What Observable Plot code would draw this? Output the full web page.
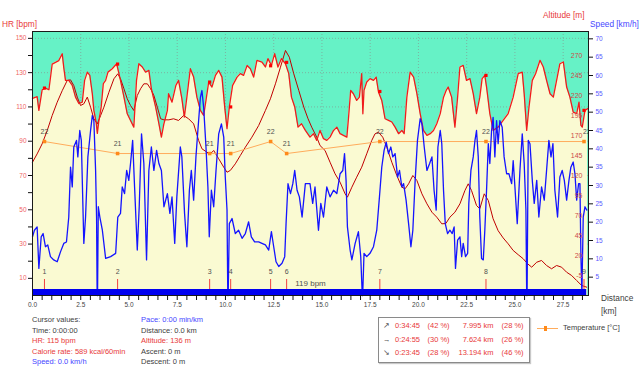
<!DOCTYPE html>
<html><head><meta charset="utf-8">
<script src="https://cdn.jsdelivr.net/npm/d3@7"></script>
<script src="https://cdn.jsdelivr.net/npm/@observablehq/plot@0.6"></script>
<style>
body{margin:0;background:#fff;font-family:"Liberation Sans",Arial,sans-serif;}
#wrap{position:relative;width:640px;height:374px;overflow:hidden;}
.t{position:absolute;white-space:nowrap;font-size:7.5px;line-height:1;color:#404040;}
.big{font-size:8.3px;}
.red{color:#e83a3a;}
.blue{color:#4646ff;}
#box{position:absolute;left:378px;top:317px;width:150px;height:44px;border:1px solid #8a8a8a;background:#fff;box-shadow:1px 1px 1px #c8c8c8;}
</style></head><body><div id="wrap"></div>
<script>
// ---------- data ----------
const totalKm = 28.813;
const hrSeries = [[0,115],[0.24,116],[0.33,108],[0.50,120],[0.67,121],[0.85,120],[0.93,127],[1.02,135],[1.19,136],[1.36,137],[1.54,141],[1.62,133],[1.71,125.5],[1.88,125.5],[2.06,122.6],[2.23,115.7],[2.40,112],[2.58,112.8],[2.70,125.5],[2.84,130.3],[2.97,128.4],[3.10,117.7],[3.18,108],[3.30,101],[3.36,94.6],[3.44,102],[3.56,110],[3.67,123.6],[3.79,125.5],[3.91,130.3],[4.13,132.3],[4.36,135.2],[4.42,132.3],[4.56,125.5],[4.74,115.7],[4.91,106],[5.08,102.1],[5.25,98.2],[5.39,125.5],[5.51,135.2],[5.69,133.3],[5.86,130.3],[6.03,131.3],[6.16,120.6],[6.38,110],[6.55,100.2],[6.68,92.4],[6.81,100.2],[6.99,108],[7.05,117.7],[7.23,112.8],[7.43,122.6],[7.57,125.5],[7.74,114.8],[7.87,104.1],[8.00,115.7],[8.18,132.3],[8.35,127.4],[8.52,115.7],[8.70,108],[8.87,105.1],[8.99,113.8],[9.13,124.5],[9.30,121.6],[9.48,128.4],[9.65,131.3],[9.82,127.4],[9.96,110],[10.08,97.3],[10.20,110],[10.37,122.6],[10.60,127.4],[10.77,129.4],[10.94,128.4],[11.12,134.2],[11.29,132.3],[11.46,127.4],[11.63,137.2],[11.89,136.2],[12.07,133.3],[12.20,138.2],[12.38,134.2],[12.55,141.1],[12.72,133.3],[12.90,138.2],[13.11,135.2],[13.28,129.4],[13.42,115.7],[13.59,110],[13.76,98.2],[13.94,100.2],[14.14,96.3],[14.38,92.4],[14.56,94.4],[14.73,90.5],[14.90,96.3],[15.08,91.5],[15.25,90.5],[15.42,92.4],[15.60,96.3],[15.77,98.2],[15.94,94.4],[16.11,93.4],[16.29,92.4],[16.38,104.1],[16.49,119.7],[16.63,117.7],[16.80,113.8],[16.94,115.7],[17.06,129.4],[17.12,106],[17.18,119.7],[17.32,124.5],[17.49,126.5],[17.67,125.5],[17.81,127.4],[17.93,118.7],[18.10,113.8],[18.27,103.1],[18.45,102.2],[18.62,101.2],[18.79,98.2],[18.97,94.4],[19.14,96.3],[19.26,94.4],[19.40,115.7],[19.57,130.3],[19.75,127.4],[19.92,117.7],[20.09,106.1],[20.26,96.3],[20.44,93.4],[20.61,94.4],[20.78,96.3],[20.95,100.2],[21.13,106.1],[21.30,115.7],[21.44,119.7],[21.54,121.6],[21.72,115.7],[21.89,98.2],[22.03,115.7],[22.15,133.3],[22.32,134.2],[22.49,125.5],[22.67,126.5],[22.84,117.7],[23.01,106.1],[23.18,115.7],[23.30,126.5],[23.44,128.4],[23.53,121.6],[23.70,106.1],[23.87,96.3],[24.13,98.2],[24.39,102.1],[24.65,106.1],[24.91,115.7],[25.17,129.4],[25.38,130.3],[25.48,117.7],[25.61,96.3],[25.73,110],[25.90,125.5],[26.07,129.4],[26.30,137.2],[26.47,133.3],[26.64,125.5],[26.82,117.7],[26.99,115.7],[27.16,125.5],[27.33,135.2],[27.51,136.2],[27.68,121.6],[27.85,115.7],[28.02,107],[28.20,106.1],[28.32,112.8],[28.42,99.2],[28.49,98.2],[28.63,108],[28.77,109]];

const altSeries = [[0,136.6],[0.24,147],[0.50,159.6],[0.76,176],[1.02,195],[1.28,211.6],[1.54,226],[1.80,238.8],[1.97,239.6],[2.14,232.5],[2.32,218],[2.49,207.5],[2.66,209.6],[2.84,218],[3.01,205.4],[3.18,190.9],[3.36,184.6],[3.53,195],[3.70,205.4],[3.96,224.1],[4.22,240.9],[4.42,247.1],[4.56,240.9],[4.74,228.4],[4.91,215.9],[5.08,207.5],[5.25,201.3],[5.43,220],[5.60,228.4],[5.77,234.6],[5.95,234.6],[6.12,228.4],[6.29,220],[6.47,205.4],[6.64,190.9],[6.81,189.6],[7.07,189.6],[7.31,190.9],[7.57,188.8],[7.83,195],[8.09,190.9],[8.35,184.6],[8.61,163.8],[8.78,153.4],[9.04,149.1],[9.22,147.1],[9.39,151.3],[9.65,140.9],[9.91,130.4],[10.08,124.1],[10.25,126.3],[10.51,134.6],[10.77,145],[11.03,155.4],[11.37,167.9],[11.72,182.5],[12.07,201.3],[12.33,215.9],[12.59,234.6],[12.85,255.4],[13.11,276.3],[13.31,267.9],[13.54,247.1],[13.80,226.3],[14.06,205.4],[14.28,190.9],[14.47,180.4],[14.73,167.9],[14.90,157.5],[15.16,151.3],[15.42,136.6],[15.68,122.1],[15.94,111.6],[16.20,97.1],[16.32,92.9],[16.55,105.4],[16.80,117.9],[17.06,130.4],[17.32,147.1],[17.58,163.8],[17.75,172.1],[17.93,174.1],[18.15,167.9],[18.36,155.4],[18.62,136.6],[18.88,120],[19.14,105.4],[19.31,103.4],[19.49,109.6],[19.71,120],[19.92,113.8],[20.18,97.1],[20.44,84.6],[20.70,74.1],[20.95,67.9],[21.21,59.6],[21.42,60],[21.63,67.9],[21.89,74.1],[22.15,84.6],[22.41,101.3],[22.58,109.6],[22.75,101.3],[23.01,82.5],[23.18,78.4],[23.41,97.1],[23.62,88.8],[23.87,65.9],[24.13,51],[24.39,42],[24.65,34.6],[24.91,26.3],[25.17,21],[25.43,15.9],[25.66,9.6],[25.87,5.4],[26.13,11.6],[26.38,13.8],[26.64,7.5],[26.90,3.4],[27.16,7.5],[27.42,5.4],[27.68,-0.9],[27.94,-5],[28.20,-11.3],[28.46,-17.5],[28.72,-19.6]];

const speedSeries = [[0,16],[0.10,17.8],[0.24,18.7],[0.33,7.4],[0.45,16],[0.55,16.9],[0.67,13.3],[0.79,13.8],[0.93,10.6],[1.10,9.7],[1.28,9.2],[1.45,11.9],[1.62,14.2],[1.76,14.6],[1.88,21.4],[1.97,35],[2.06,29.6],[2.14,40.5],[2.28,42.3],[2.35,37.8],[2.45,45],[2.53,42.3],[2.66,14.2],[2.75,21.4],[2.87,37.8],[3.01,45],[3.10,49.1],[3.18,47.7],[3.27,34.1],[3.32,21.4],[3.35,0],[3.37,0],[3.41,24.2],[3.49,21.4],[3.62,17.8],[3.79,10.1],[4.05,10.6],[4.31,11.5],[4.42,21.4],[4.56,22.4],[4.65,29.6],[4.77,27.8],[4.88,34.1],[4.99,31.4],[5.08,36],[5.19,42.3],[5.29,29.6],[5.43,12.4],[5.53,24.2],[5.65,44.1],[5.77,36],[5.91,9.7],[6.03,34.1],[6.16,40.5],[6.29,34.1],[6.43,39.6],[6.55,36],[6.68,34.1],[6.81,24.2],[6.99,27.8],[7.12,22.4],[7.23,26.9],[7.37,14.2],[7.48,26.9],[7.66,40.5],[7.74,37.8],[7.88,22.4],[8.00,13.3],[8.13,28.7],[8.23,34.1],[8.35,26],[8.47,37.8],[8.57,45],[8.70,54],[8.78,55.9],[8.87,51.3],[8.99,40.5],[9.09,29.6],[9.16,16],[9.27,28.7],[9.39,24.2],[9.51,34.1],[9.65,44.1],[9.79,46.8],[9.91,43.2],[9.99,32.3],[10.08,23.3],[10.12,0],[10.14,0],[10.20,19.6],[10.34,21],[10.51,16.9],[10.68,17.8],[10.86,15.6],[11.03,16.9],[11.20,20.1],[11.34,16],[11.51,14.6],[11.72,14.6],[11.89,14.2],[12.07,13.8],[12.24,12.4],[12.38,17.4],[12.50,13.3],[12.62,9.2],[12.76,7.9],[12.93,8.8],[13.07,10.6],[13.14,19.6],[13.24,30.5],[13.37,27.8],[13.49,30.5],[13.59,34.1],[13.71,28.7],[13.83,26.9],[13.97,21.4],[14.14,30.5],[14.28,30.5],[14.38,30.5],[14.52,25.1],[14.64,29.6],[14.82,17.8],[14.94,25.1],[15.08,21.4],[15.25,29.6],[15.42,26.9],[15.60,28.7],[15.77,27.8],[15.94,33.2],[16.08,34.1],[16.17,38.7],[16.25,31.4],[16.32,18.7],[16.46,12.4],[16.55,9.7],[16.72,14.2],[16.89,17.4],[17.01,10.6],[17.09,0],[17.11,0],[17.18,11.5],[17.32,10.6],[17.49,11.5],[17.67,13.3],[17.84,17.8],[17.98,26.9],[18.10,35],[18.22,39.6],[18.33,41.8],[18.45,38.7],[18.57,40.5],[18.67,37.8],[18.79,38.7],[18.92,32.3],[19.02,34.1],[19.14,29.6],[19.23,30.5],[19.36,26],[19.49,19.6],[19.61,13.3],[19.71,17.8],[19.83,31.4],[19.95,42.3],[20.09,48.2],[20.18,46.8],[20.30,40.5],[20.44,34.1],[20.58,36],[20.70,37.8],[20.81,28.7],[20.92,23.3],[21.01,40.5],[21.13,45],[21.21,41.4],[21.30,28.7],[21.39,19.6],[21.51,16.9],[21.63,17.8],[21.75,16.9],[21.85,18.7],[21.92,7.4],[22.03,15.1],[22.15,16],[22.24,10.6],[22.32,14.2],[22.44,10.6],[22.55,11.5],[22.61,25.1],[22.72,34.1],[22.84,37.8],[22.93,42.3],[23.01,45],[23.10,37.8],[23.18,21.4],[23.27,10.1],[23.36,9.7],[23.44,17.8],[23.53,28.7],[23.62,41.4],[23.70,36],[23.79,45],[23.87,48.6],[23.96,37.8],[24.05,47.7],[24.13,41.4],[24.22,47.7],[24.34,45.9],[24.44,37.8],[24.57,33.2],[24.69,33.2],[24.83,30.5],[24.91,36.8],[25.00,29.6],[25.12,19.6],[25.26,34.1],[25.38,44.1],[25.48,36],[25.57,23.3],[25.61,0],[25.63,0],[25.69,42.3],[25.78,41.4],[25.90,31.4],[26.00,25.1],[26.13,31.4],[26.24,21.4],[26.38,29.6],[26.52,26],[26.64,34.1],[26.76,42.3],[26.87,37.8],[26.97,41.4],[27.07,28.7],[27.21,21.4],[27.33,32.3],[27.45,34.1],[27.56,31.4],[27.68,26],[27.80,31.4],[27.90,35],[28.02,36.4],[28.11,33.2],[28.20,26],[28.30,30.5],[28.37,30.5],[28.42,10.6],[28.47,0.5],[28.54,21.4],[28.63,24.2],[28.72,23.3]];

const lapKm   = [0.62, 4.41, 9.18, 10.27, 12.34, 13.17, 18.0, 23.5, 28.58];
const lapNo   = [1, 2, 3, 4, 5, 6, 7, 8, 9];
const lapTemp = [22, 21, 21, 21, 22, 21, 22, 22, 22];
const lapHR   = [121, 135, 124.5, 110, 134, 136, 119, 128.4, 108];
const avgHR = 119;

const hrTicks = [10,20,30,40,50,60,70,80,90,100,110,120,130,140,150];
const hrLabels = [10,30,50,70,90,110,130,150];
const altTicks = [-5,20,45,70,95,120,145,170,195,220,245,270];
const speedTicks = [5,10,15,20,25,30,35,40,45,50,55,60,65,70];
const xLabels = [0,2.5,5,7.5,10,12.5,15,17.5,20,22.5,25,27.5];
const xMinor = d3.range(0, 28.81, 0.5);
const band = [{start: 0, end: 28.72}];

// ---------- scale mapping (all series share the HR axis) ----------
const HR_MAX = 154, ALT_MIN = -30, ALT_MAX = 300, SPD_MAX = 72, T_MIN = 9.17, T_MAX = 31.17;
const altY = a => (a - ALT_MIN) / (ALT_MAX - ALT_MIN) * HR_MAX;
const spdY = s => s / SPD_MAX * HR_MAX;
const tmpY = t => (t - T_MIN) / (T_MAX - T_MIN) * HR_MAX;

const hr = hrSeries.map(([km, v]) => ({km, v}));
const alt = altSeries.map(([km, v]) => ({km, v}));
const spd = speedSeries.map(([km, v]) => ({km, v}));
const laps = lapKm.map((km, i) => ({km, n: lapNo[i], t: lapTemp[i], hr: lapHR[i]}));

const chart = Plot.plot({
  width: 640, height: 374,
  marginTop: 31, marginBottom: 79, marginLeft: 32, marginRight: 52,
  x: {domain: [0, totalKm], axis: null},
  y: {domain: [0, HR_MAX], axis: null},
  style: {fontFamily: "'Liberation Sans', Arial, sans-serif", fontSize: "6.5px", background: "transparent"},
  marks: [
    Plot.frame({fill: "#66f2c6", stroke: null}),
    Plot.gridX(xLabels, {stroke: "#8a8a8a", strokeOpacity: 0.6, strokeDasharray: "1,2"}),
    Plot.gridY(hrLabels, {stroke: "#8a8a8a", strokeOpacity: 0.6, strokeDasharray: "1,2"}),
    Plot.areaY(hr, {x: "km", y: "v", fill: "#fafad2"}),
    Plot.line(alt, {x: "km", y: d => altY(d.v), stroke: "#c00000", strokeWidth: 1}),
    Plot.line(hr, {x: "km", y: "v", stroke: "#f01c1c", strokeWidth: 1.3}),
    Plot.dot(laps, {x: "km", y: "hr", symbol: "square", r: 1.8, fill: "#ff0000", stroke: null}),
    Plot.line(laps, {x: "km", y: d => tmpY(d.t), stroke: "#ffac5c", strokeWidth: 1}),
    Plot.line(spd, {x: "km", y: d => spdY(d.v), stroke: "#1414ff", strokeWidth: 1.3}),
    Plot.dot(laps, {x: "km", y: d => tmpY(d.t), symbol: "square", r: 2, fill: "#ff8a1a", stroke: null}),
    Plot.text(laps.slice(0, -1), {x: "km", y: d => tmpY(d.t), text: d => String(d.t), dy: -10, fill: "#505050", fontSize: 7}),
    Plot.text(laps.slice(-1), {x: "km", y: d => tmpY(d.t), text: d => String(d.t), dy: -10, dx: 3, fill: "#505050", fontSize: 7, clip: true}),
    Plot.rect(band, {x1: "start", x2: "end", fill: "#0000f0", insetTop: 258}),
    Plot.ruleX(laps, {x: "km", stroke: "#f04040", strokeWidth: 1, insetTop: 248, insetBottom: 6}),
    Plot.text(laps, {x: "km", text: d => String(d.n), frameAnchor: "bottom", dy: -22, fill: "#505050", fontSize: 7, clip: true}),
    Plot.text([avgHR], {x: totalKm / 2, text: d => `${d} bpm`, frameAnchor: "bottom", dy: -10, fill: "#505050", fontSize: 8}),
    Plot.text(altTicks, {y: d => altY(d), text: d => String(d), frameAnchor: "right", textAnchor: "end", dx: -6, fill: "#cc4a4a", fontSize: 7}),
    Plot.frame({stroke: "#1a1a1a", strokeWidth: 1}),
    Plot.axisY(hrTicks, {anchor: "left", tickSize: 4, tickPadding: 2, tickFormat: d => hrLabels.includes(d) ? String(d) : "", fill: "#f06464", stroke: "#111", fontSize: 6.5}),
    Plot.axisY(speedTicks.map(spdY), {anchor: "right", tickSize: 4, tickPadding: 3, tickFormat: d => String(Math.round(d / HR_MAX * SPD_MAX)), fill: "#5a5aff", stroke: "#111", fontSize: 6.5}),
    Plot.axisX(xMinor, {anchor: "bottom", tickSize: 5, tickPadding: 2, tickFormat: d => xLabels.includes(d) ? d.toFixed(1) : "", fill: "#454545", stroke: "#111", fontSize: 6.5})
  ]
});

const wrap = document.getElementById("wrap");
wrap.appendChild(chart);

function addText(txt, left, top, cls) {
  const el = document.createElement("div");
  el.className = "t " + (cls || "");
  el.style.left = left + "px";
  el.style.top = top + "px";
  el.textContent = txt;
  wrap.appendChild(el);
  return el;
}
// axis titles
addText("HR [bpm]", 2, 20, "big red");
addText("Altitude [m]", 543, 11, "big red");
addText("Speed [km/h]", 590, 20, "big blue");
addText("Distance", 601, 294, "big");
addText("[km]", 601, 307, "big");

// cursor values
const col1 = [["Cursor values:", ""], ["Time: 0:00:00", ""], ["HR: 115 bpm", "red"], ["Calorie rate: 589 kcal/60min", "red"], ["Speed: 0.0 km/h", "blue"]];
const col2 = [["Pace: 0:00 min/km", "blue"], ["Distance: 0.0 km", ""], ["Altitude: 136 m", "red"], ["Ascent: 0 m", ""], ["Descent: 0 m", ""]];
const rowTops = [316, 326.5, 337, 347.5, 358];
col1.forEach(([t, c], i) => addText(t, 32, rowTops[i], c));
col2.forEach(([t, c], i) => addText(t, 141, rowTops[i], c));

// summary box
const box = document.createElement("div"); box.id = "box"; wrap.appendChild(box);
const sumArrow = ["\u2197", "\u2192", "\u2198"];
const sumTime = ["0:34:45", "0:24:55", "0:23:45"];
const sumTimePct = ["(42 %)", "(30 %)", "(28 %)"];
const sumDist = ["7.995 km", "7.624 km", "13.194 km"];
const sumDistPct = ["(28 %)", "(26 %)", "(46 %)"];
const boxTops = [322, 336, 349];
sumArrow.forEach((a, i) => {
  addText(a, 383, boxTops[i] - 0.5, "").style.color = "#555";
  addText(sumTime[i], 395, boxTops[i], "red");
  addText(sumTimePct[i], 427.5, boxTops[i], "red");
  const d = addText(sumDist[i], 0, boxTops[i], "red");
  d.style.left = "auto"; d.style.right = (640 - 493.5) + "px";
  addText(sumDistPct[i], 501.5, boxTops[i], "red");
});

// legend
const leg = document.createElement("div");
leg.style.cssText = "position:absolute;left:537px;top:327.5px;width:21px;height:1px;background:#ffac5c;";
wrap.appendChild(leg);
const legM = document.createElement("div");
legM.style.cssText = "position:absolute;left:544px;top:326px;width:3px;height:5px;background:#ff8a1a;";
wrap.appendChild(legM);
addText("Temperature [\u00b0C]", 563, 324, "");
</script></body></html>
